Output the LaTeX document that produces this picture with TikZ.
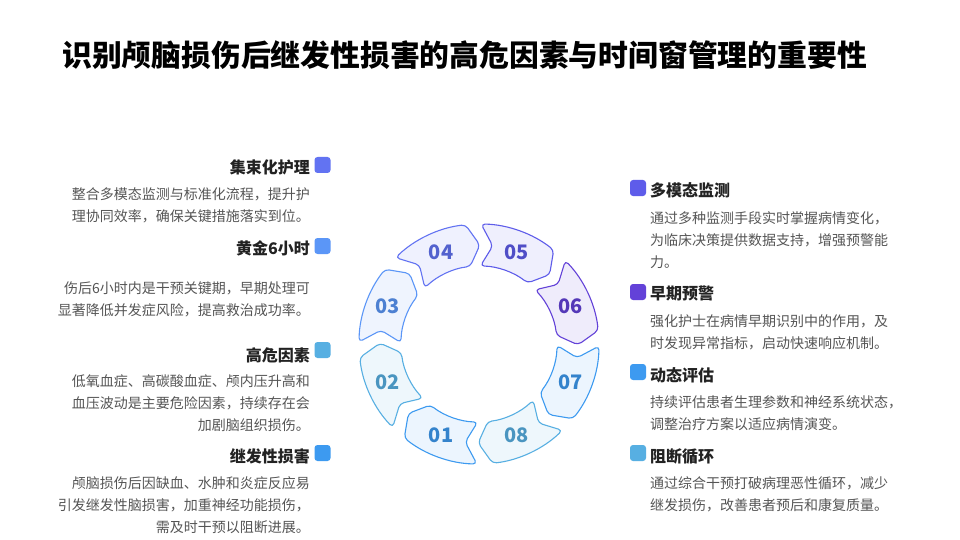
\documentclass[tikz,border=0pt]{standalone}
\usepackage{fontspec}
\setmainfont{Noto Sans CJK SC}
\definecolor{cA}{HTML}{3D9AF0}
\definecolor{cB}{HTML}{57AFE2}
\definecolor{cC}{HTML}{5B96F7}
\definecolor{cD}{HTML}{6273F2}
\definecolor{cE}{HTML}{5E5CEA}
\definecolor{cF}{HTML}{6342D8}
\definecolor{headtxt}{HTML}{222222}
\definecolor{bodytxt}{HTML}{555555}
\tikzset{
  head/.style={font=\fontsize{16}{20}\selectfont\bfseries, text=headtxt, inner sep=0},
  body/.style={font=\fontsize{14}{22}\selectfont, text=bodytxt, inner sep=0},
  mark box/.style={fill=#1, rounded corners=3pt, minimum size=16pt, inner sep=0},
  segline/.style={draw=#1, fill=#1!10, line width=1.1pt, rounded corners=4pt, line join=round},
  segnum/.style={font=\fontsize{20}{22}\selectfont\bfseries, inner sep=0},
}
\begin{document}
\begin{tikzpicture}[x=1pt,y=-1pt, line join=round,line cap=round]
  \useasboundingbox[fill=white] (0,0) rectangle (960,540);
  % --- Tiêu đề ---
  \node[anchor=west, inner sep=0, font=\fontsize{29.8}{34}\selectfont\bfseries] (title) at (62,55)
    {识别颅脑损伤后继发性损害的高危因素与时间窗管理的重要性};

  % --- Vòng 8 đoạn ---
  \begin{scope}[shift={(479,344)}, yscale=-1]
    \foreach \i/\c/\col in {1/247.5/cA, 2/202.5/cB, 3/157.5/cC, 4/112.5/cD,
                            5/67.5/cE, 6/22.5/cF, 7/-22.5/cA, 8/-67.5/cB}{
      \draw[segline=\col] (\c+21.5:120) arc[start angle=\c+21.5, end angle=\c-16, radius=120]
        -- (\c-23:99) -- (\c-16:78) arc[start angle=\c-16, end angle=\c+21.5, radius=78]
        -- (\c+14.5:99) -- cycle;
      \node[segnum, text=\col!85!black] (seg\i) at (\c:99) {0\i};
    }
  \end{scope}

  % --- Cột trái ---
  \node[mark box=cD] (boxD) at (322.5,165) {};
  \node[head, anchor=east] (headD) at (310,167) {集束化护理};
  \node[body, anchor=north east, align=right] (bodyD) at (310,187)
    {整合多模态监测与标准化流程，提升护\\理协同效率，确保关键措施落实到位。};

  \node[mark box=cC] (boxC) at (322.5,246) {};
  \node[head, anchor=east] (headC) at (310,248) {黄金6小时};
  \node[body, anchor=north east, align=right] (bodyC) at (310,281)
    {伤后6小时内是干预关键期，早期处理可\\显著降低并发症风险，提高救治成功率。};

  \node[mark box=cB] (boxB) at (322.5,350) {};
  \node[head, anchor=east] (headB) at (310,355) {高危因素};
  \node[body, anchor=north east, align=right] (bodyB) at (310,374)
    {低氧血症、高碳酸血症、颅内压升高和\\血压波动是主要危险因素，持续存在会\\加剧脑组织损伤。};

  \node[mark box=cA] (boxA) at (322.5,453) {};
  \node[head, anchor=east] (headA) at (310,456) {继发性损害};
  \node[body, anchor=north east, align=right] (bodyA) at (310,476)
    {颅脑损伤后因缺血、水肿和炎症反应易\\引发继发性脑损害，加重神经功能损伤，\\需及时干预以阻断进展。};

  % --- Cột phải ---
  \node[mark box=cE] (boxE) at (638,188) {};
  \node[head, anchor=west] (headE) at (650,190) {多模态监测};
  \node[body, anchor=north west, align=left] (bodyE) at (650,211)
    {通过多种监测手段实时掌握病情变化，\\为临床决策提供数据支持，增强预警能\\力。};

  \node[mark box=cF] (boxF) at (638,292) {};
  \node[head, anchor=west] (headF) at (650,293) {早期预警};
  \node[body, anchor=north west, align=left] (bodyF) at (650,314)
    {强化护士在病情早期识别中的作用，及\\时发现异常指标，启动快速响应机制。};

  \node[mark box=cA] (boxG) at (638,372) {};
  \node[head, anchor=west] (headG) at (650,375) {动态评估};
  \node[body, anchor=north west, align=left] (bodyG) at (650,395)
    {持续评估患者生理参数和神经系统状态，\\调整治疗方案以适应病情演变。};

  \node[mark box=cB] (boxH) at (638,453) {};
  \node[head, anchor=west] (headH) at (650,457) {阻断循环};
  \node[body, anchor=north west, align=left] (bodyH) at (650,476)
    {通过综合干预打破病理恶性循环，减少\\继发损伤，改善患者预后和康复质量。};
\end{tikzpicture}
\end{document}
